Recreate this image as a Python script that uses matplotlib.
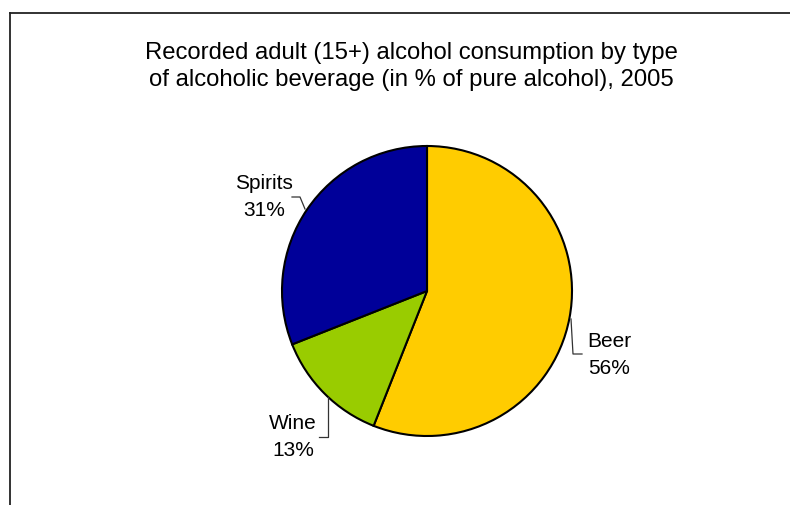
import matplotlib
matplotlib.use("Agg")
import matplotlib.pyplot as plt
from matplotlib.lines import Line2D

plt.rcParams['font.family'] = ['Liberation Sans', 'DejaVu Sans']

categories = ["Beer", "Wine", "Spirits"]
values = [56, 13, 31]
colors = ["#FFCC00", "#99CC00", "#000099"]
title = "Recorded adult (15+) alcohol consumption by type\nof alcoholic beverage (in % of pure alcohol), 2005"

W, H = 790, 506
fig = plt.figure(figsize=(W / 100, H / 100), dpi=100)
cx, cy, r = 427, 292, 145
ax = fig.add_axes([(cx - r) / W, (H - cy - r) / H, 2 * r / W, 2 * r / H])
ax.pie(values, colors=colors, startangle=90, counterclock=False, radius=1,
       wedgeprops=dict(edgecolor='black', linewidth=1.5))
ax.set_xlim(-1, 1)
ax.set_ylim(-1, 1)
ax.set_aspect('equal')
ax.axis('off')

def d(px, py):
    return ((px - cx) / r, (cy - py) / r)

leaders = {
    "Beer": [(571, 320), (573, 355), (582, 355)],
    "Wine": [(328, 398), (328, 438), (319, 438)],
    "Spirits": [(305, 210), (300, 198), (292, 198)],
}
label_pos = {"Beer": (609, 355), "Wine": (293, 437), "Spirits": (264, 197)}

for cat, val in zip(categories, values):
    pts = [d(*p) for p in leaders[cat]]
    ax.plot([p[0] for p in pts], [p[1] for p in pts], color='#333333', lw=0.9, clip_on=False)
    lx, ly = d(*label_pos[cat])
    ax.text(lx, ly, f"{cat}\n{val}%", ha='center', va='center', fontsize=15,
            linespacing=1.55, clip_on=False)

fig.text(411 / W, 1 - 66.5 / H, title, ha='center', va='center', fontsize=17.2, linespacing=1.3)

fig.add_artist(Line2D([10 / W, 1], [1 - 14 / H, 1 - 14 / H], color='#222222', lw=1.3, transform=fig.transFigure))
fig.add_artist(Line2D([10 / W, 10 / W], [0, 1 - 14 / H], color='#222222', lw=1.3, transform=fig.transFigure))

fig.savefig("out.png", dpi=100)
